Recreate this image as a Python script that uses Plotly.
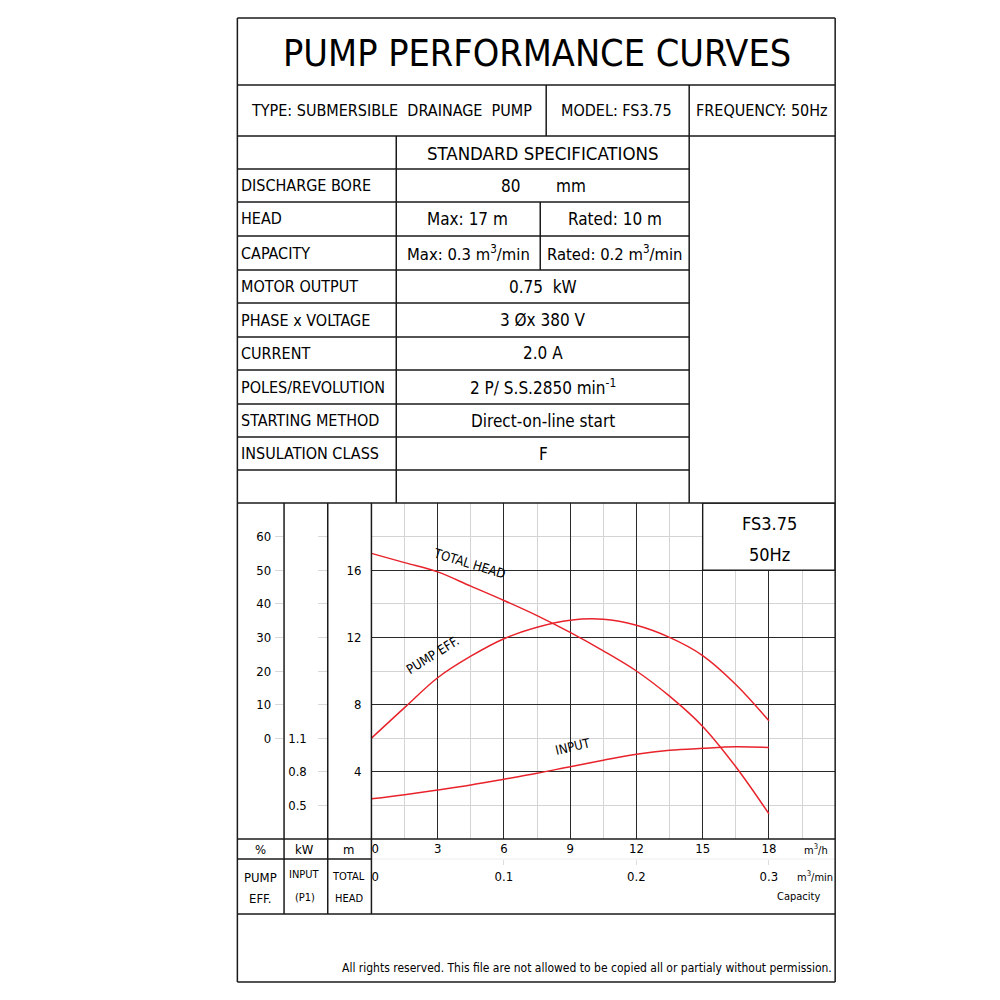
import plotly.graph_objects as go

# ---------------- data ----------------
capacity_m3h = [0, 1.5, 3, 4.5, 6, 7.5, 9, 10.5, 12, 13.5, 15, 16.5, 18]
total_head_m = [17.0, 16.45, 15.9, 15.05, 14.2, 13.3, 12.3, 11.2, 10.0, 8.5, 6.7, 4.3, 1.5]
pump_eff_pct = [0, 9.1, 18.0, 24.4, 29.6, 33.0, 35.1, 35.4, 33.6, 30.0, 24.6, 16.0, 5.2]
input_kw = [0.559, 0.596, 0.638, 0.683, 0.734, 0.787, 0.846, 0.903, 0.956, 0.992, 1.010, 1.023, 1.017]

x_ticks_m3h = [0, 3, 6, 9, 12, 15, 18]
x_ticktext_m3h = ["\u20070", "3", "6", "9", "12", "15", "18"]
x_ticks_m3min = [0, 0.1, 0.2, 0.3]
x_ticktext_m3min = ["\u20070", "0.1", "0.2", "0.3"]
head_ticks = [4, 8, 12, 16]
eff_ticks = [0, 10, 20, 30, 40, 50, 60]
kw_ticks = [0.5, 0.8, 1.1]
kw_minor_ticks = [1.4, 1.7, 2.0, 2.3, 2.6, 2.9]

title_text = "PUMP PERFORMANCE CURVES"
type_text = "TYPE: SUBMERSIBLE  DRAINAGE  PUMP"
model_text = "MODEL: FS3.75"
freq_text = "FREQUENCY: 50Hz"
spec_header = "STANDARD SPECIFICATIONS"
spec_labels = ["DISCHARGE BORE", "HEAD", "CAPACITY", "MOTOR OUTPUT", "PHASE x VOLTAGE",
               "CURRENT", "POLES/REVOLUTION", "STARTING METHOD", "INSULATION CLASS"]
spec_values = [None, None, None, "0.75  kW", "3 Øx 380 V", "2.0 A",
               "2 P/ S.S.2850 min<sup>-1</sup>", "Direct-on-line start", "F"]
bore_value = ["80", "mm"]
head_split = ["Max: 17 m", "Rated: 10 m"]
cap_split = ["Max: 0.3 m<sup>3</sup>/min", "Rated: 0.2 m<sup>3</sup>/min"]
footer_text = "All rights reserved. This file are not allowed to be copied all or partialy without permission."

FONT = "DejaVu Sans Condensed, Liberation Sans Narrow, Arial Narrow, DejaVu Sans, sans-serif"
RED = "#e8232b"

def px(x):
    return x / 1000.0

def py(y):
    return 1 - y / 1000.0

fig = go.Figure()

fig.add_trace(go.Scatter(x=capacity_m3h, y=total_head_m, mode="lines", line=dict(color=RED, width=1.5, shape="spline"),
                         name="TOTAL HEAD", xaxis="x", yaxis="y", showlegend=False, hoverinfo="skip"))
fig.add_trace(go.Scatter(x=capacity_m3h, y=pump_eff_pct, mode="lines", line=dict(color=RED, width=1.5, shape="spline"),
                         name="PUMP EFF.", xaxis="x", yaxis="y2", showlegend=False, hoverinfo="skip"))
fig.add_trace(go.Scatter(x=capacity_m3h, y=input_kw, mode="lines", line=dict(color=RED, width=1.5, shape="spline"),
                         name="INPUT", xaxis="x", yaxis="y3", showlegend=False, hoverinfo="skip"))
fig.add_trace(go.Scatter(x=[], y=[], xaxis="x2", yaxis="y", showlegend=False, hoverinfo="skip"))

X0, X1 = 367, 834
Y0, Y1 = 839, 503

fig.update_layout(
    width=1000, height=1000,
    margin=dict(l=0, r=0, t=0, b=0),
    paper_bgcolor="white", plot_bgcolor="white",
    font=dict(family=FONT, color="black", size=13),
    xaxis=dict(domain=[px(X0), px(X1)], range=[0, 21], tickvals=x_ticks_m3h, ticktext=x_ticktext_m3h,
               showgrid=True, gridcolor="#2a2a2a", gridwidth=1.4, zeroline=False,
               minor=dict(dtick=1.5, tick0=0, showgrid=True, gridcolor="#d4d4d4", gridwidth=1),
               ticks="", ticklabelstandoff=0, tickfont=dict(size=13, family=FONT), showline=False,
               fixedrange=True),
    xaxis2=dict(overlaying="x", anchor="free", position=py(859), side="bottom", range=[0, 0.35],
                tickvals=x_ticks_m3min, ticktext=x_ticktext_m3min, showgrid=False, zeroline=False,
                ticks="outside", ticklen=5, tickcolor="#dddddd", tickfont=dict(size=13, family=FONT),
                showline=False, fixedrange=True),
    yaxis=dict(domain=[py(Y0), py(Y1)], range=[0, 20], tickvals=head_ticks,
               showgrid=True, gridcolor="#2a2a2a", gridwidth=1.4, zeroline=False,
               minor=dict(dtick=2, tick0=0, showgrid=True, gridcolor="#d4d4d4", gridwidth=1),
               ticks="", ticklabelstandoff=9, tickfont=dict(size=13, family=FONT), showline=False,
               fixedrange=True),
    yaxis2=dict(overlaying="y", anchor="free", position=px(269), side="left", range=[-30, 70],
                tickvals=eff_ticks, showgrid=False, zeroline=False, ticks="inside", ticklen=8,
                tickcolor="#d8d8d8", ticklabelstandoff=3, tickfont=dict(size=13, family=FONT),
                showline=False, fixedrange=True),
    yaxis3=dict(overlaying="y", anchor="free", position=px(312), side="left", range=[0.2, 3.2],
                tickvals=kw_ticks, showgrid=False, zeroline=False,
                ticks="inside", ticklen=10, tickcolor="#d8d8d8", ticklabelstandoff=10,
                minor=dict(tickvals=kw_minor_ticks, ticks="inside", ticklen=10, tickcolor="#d8d8d8",
                           showgrid=False),
                tickfont=dict(size=13, family=FONT), showline=False, fixedrange=True),
)

shapes = []
LC = "#1a1a1a"

def hline(y, xa, xb, w=1.5, c=LC):
    shapes.append(dict(type="line", xref="paper", yref="paper", x0=px(xa), x1=px(xb), y0=py(y), y1=py(y),
                       line=dict(color=c, width=w), layer="above"))

def vline(x, ya, yb, w=1.5, c=LC):
    shapes.append(dict(type="line", xref="paper", yref="paper", x0=px(x), x1=px(x), y0=py(ya), y1=py(yb),
                       line=dict(color=c, width=w), layer="above"))

# model box inside chart (top right)
shapes.append(dict(type="rect", xref="x", yref="y", x0=15, x1=21, y0=16, y1=20,
                   fillcolor="white", line=dict(color=LC, width=1.4), layer="above"))

L, R, T, B = 232, 834, 18, 982
row_y = [136, 169, 202, 236, 270, 303, 337, 370, 404, 437, 470, 503]
for y in [T, 85, 136, 503, 839, 914, B]:
    hline(y, L, R)
for y in row_y[1:-1]:
    hline(y, L, 687)
hline(859, L, X0)
hline(859, X0, R, w=1, c="#ececec")
vline(L, T, B)
vline(R, T, B)
vline(543, 85, 136)
vline(687, 85, 503)
vline(392, 136, 503)
vline(537, 202, 270)
for x in [279, 323, 367]:
    vline(x, 503, 914)

fig.update_layout(shapes=shapes)

ann = []

def text(x, y, s, size=16, anchor="center", angle=0):
    ann.append(dict(x=px(x), y=py(y), xref="paper", yref="paper", text=s, showarrow=False,
                    xanchor=anchor, yanchor="middle", textangle=angle, borderpad=0,
                    font=dict(size=size, family=FONT, color="black")))

text(534, 53, title_text, size=37.5)
text(387, 111, type_text, size=16)
text(614, 111, model_text, size=16)
text(760, 111, freq_text, size=16)
text(540, 153, spec_header, size=18.5)

for i, lab in enumerate(spec_labels):
    yc = (row_y[i + 1] + row_y[i + 2]) / 2
    text(235, yc, lab, size=16, anchor="left")
    if spec_values[i] is not None:
        text(540, yc, spec_values[i], size=17)
yb = (row_y[1] + row_y[2]) / 2
text(507, yb, bore_value[0], size=17)
text(568, yb, bore_value[1], size=17)
yh = (row_y[2] + row_y[3]) / 2
text(464, yh, head_split[0], size=17)
text(612, yh, head_split[1], size=17)
yc2 = (row_y[3] + row_y[4]) / 2
text(465, yc2, cap_split[0], size=16.5)
text(612, yc2, cap_split[1], size=16.5)

# chart box
text(768, 523, "FS3.75", size=18)
text(768, 554, "50Hz", size=18)
text(466, 563, "TOTAL HEAD", size=13, angle=17)
text(428, 655, "PUMP EFF.", size=13, angle=-32)
text(570, 746, "INPUT", size=13, angle=-13)

# unit row & axis captions
text(255, 849, "%", size=13)
text(300, 849, "kW", size=13)
text(344, 849, "m", size=13)
text(815, 849, "m<sup>3</sup>/h", size=11)
text(814, 876, "m<sup>3</sup>/min", size=11)
text(797, 896, "Capacity", size=11)
text(255, 877, "PUMP", size=13)
text(255, 898, "EFF.", size=13)
text(300, 874, "INPUT", size=11)
text(300, 897, "(P1)", size=11)
text(344, 876, "TOTAL", size=11)
text(344, 898, "HEAD", size=11)

text(832, 968, footer_text, size=12, anchor="right")

fig.update_layout(annotations=ann)

fig.write_html("out.html",
               post_script="document.body.style.margin='0';document.documentElement.style.overflow='hidden';",
               config={"displayModeBar": False})
